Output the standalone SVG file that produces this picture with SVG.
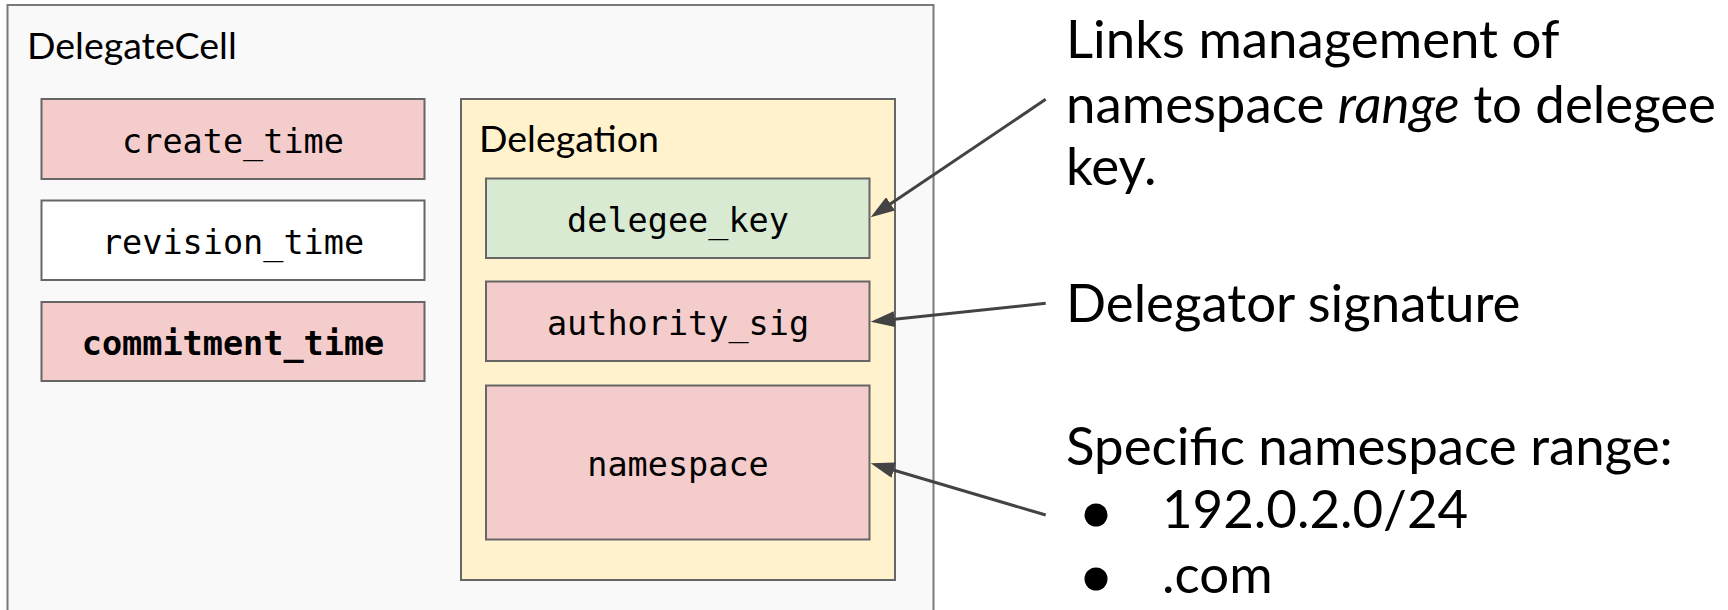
<svg xmlns="http://www.w3.org/2000/svg" width="1728" height="610" viewBox="0 0 1728 610">
  <style>
    .frame { fill: #f9f9f9; stroke: #7a7a7a; stroke-width: 2; }
    .group { fill: #fff2cc; stroke: #666666; stroke-width: 2; }
    .field { stroke: #666666; stroke-width: 2; }
    .pink { fill: #f4cccc; }
    .green { fill: #d9ead3; }
    .white { fill: #ffffff; }
    .title { font-family: Lato, "Liberation Sans", sans-serif; font-size: 37.5px; fill: #000000; }
    .mono { font-family: "DejaVu Sans Mono", "Liberation Mono", monospace; font-size: 33.5px; fill: #000000; text-anchor: middle; }
    .bold { font-weight: bold; }
    .note { font-family: Lato, "Liberation Sans", sans-serif; font-size: 52.8px; fill: #000000; }
    .conn { stroke: #434343; stroke-width: 3; fill: none; marker-end: url(#head); }
  </style>
  <defs>
    <marker id="head" viewBox="0 0 24 16" markerWidth="24" markerHeight="16" refX="12" refY="8" orient="auto" markerUnits="userSpaceOnUse">
      <path d="M0,0 L24,8 L0,16 z" fill="#434343"/>
    </marker>
  </defs>

  <!-- outer record container -->
  <g id="delegate-cell">
    <rect class="frame" x="7.5" y="5" width="926" height="700"/>
    <text class="title" x="27" y="59">DelegateCell</text>
  </g>

  <g id="create-time">
    <rect class="field pink" x="41.5" y="99" width="383" height="80"/>
    <text class="mono" x="233" y="153">create_time</text>
  </g>

  <g id="revision-time">
    <rect class="field white" x="41.5" y="200.5" width="383" height="79.5"/>
    <text class="mono" x="233" y="254">revision_time</text>
  </g>

  <g id="commitment-time">
    <rect class="field pink" x="41.5" y="302" width="383" height="79"/>
    <text class="mono bold" x="233" y="355">commitment_time</text>
  </g>

  <!-- nested delegation structure -->
  <g id="delegation">
    <rect class="group" x="461" y="99" width="434" height="481"/>
    <text class="title" x="479" y="152">Delegation</text>
  </g>

  <g id="delegee-key">
    <rect class="field green" x="486" y="178.5" width="383.5" height="79.5"/>
    <text class="mono" x="678" y="232">delegee_key</text>
  </g>

  <g id="authority-sig">
    <rect class="field pink" x="486" y="281.5" width="383.5" height="79.5"/>
    <text class="mono" x="678" y="335">authority_sig</text>
  </g>

  <g id="namespace">
    <rect class="field pink" x="486" y="385.5" width="383.5" height="154"/>
    <text class="mono" x="678" y="476">namespace</text>
  </g>

  <!-- explanatory notes -->
  <g id="note-delegee">
    <text class="note" x="1066" y="58.3">Links management of</text>
    <text class="note" x="1066" y="122.7">namespace <tspan font-style="italic">range</tspan> to delegee</text>
    <text class="note" x="1066" y="185">key.</text>
  </g>

  <g id="note-signature">
    <text class="note" x="1066" y="321.7">Delegator signature</text>
  </g>

  <g id="note-namespace">
    <text class="note" x="1066" y="465">Specific namespace range:</text>
    <circle cx="1096" cy="515" r="11.5" fill="#000000"/>
    <text class="note" x="1162" y="528.3">192.0.2.0/24</text>
    <circle cx="1096" cy="579" r="11.5" fill="#000000"/>
    <text class="note" x="1162" y="593.3">.com</text>
  </g>

  <!-- connectors from notes to fields -->
  <g id="connectors">
    <line class="conn" x1="1045.7" y1="99.3" x2="880.6" y2="210.6"/>
    <line class="conn" x1="1045.7" y1="303.3" x2="882.6" y2="320.4"/>
    <line class="conn" x1="1045.7" y1="515" x2="882.2" y2="466.7"/>
  </g>
</svg>
